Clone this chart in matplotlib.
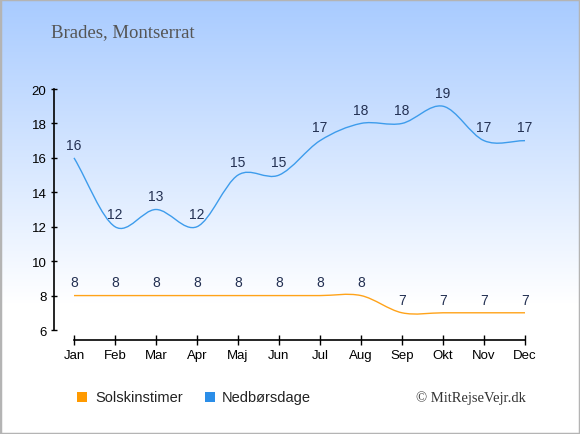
import numpy as np
import matplotlib
matplotlib.use('Agg')
import matplotlib.pyplot as plt
from matplotlib.path import Path
from matplotlib.patches import PathPatch, Rectangle

# Data
months = ['Jan', 'Feb', 'Mar', 'Apr', 'Maj', 'Jun', 'Jul', 'Aug', 'Sep', 'Okt', 'Nov', 'Dec']
sun_hours = [8, 8, 8, 8, 8, 8, 8, 8, 7, 7, 7, 7]
rain_days = [16, 12, 13, 12, 15, 15, 17, 18, 18, 19, 17, 17]
yticks = [6, 8, 10, 12, 14, 16, 18, 20]

orange = '#ffa31a'
blue = '#3d9cec'
label_col = '#233052'


def spline_path(xs, ys):
    # catmull-rom curve through the points, as cubic bezier segments
    n = len(xs)
    m = np.zeros(n)
    for i in range(n):
        if i == 0:
            m[i] = ys[1] - ys[0]
        elif i == n - 1:
            m[i] = (ys[-1] - ys[-2]) * 0.5
        else:
            m[i] = (ys[i + 1] - ys[i - 1]) / 2
    verts = [(xs[0], ys[0])]
    codes = [Path.MOVETO]
    for i in range(1, n):
        dx = xs[i] - xs[i - 1]
        verts += [(xs[i - 1] + dx / 3, ys[i - 1] + m[i - 1] / 3),
                  (xs[i] - dx / 3, ys[i] - m[i] / 3),
                  (xs[i], ys[i])]
        codes += [Path.CURVE4] * 3
    return Path(verts, codes)


W, H = 580, 435
fig = plt.figure(figsize=(W / 100, H / 100), dpi=100)

# gradient background
bg = fig.add_axes([0, 0, 1, 1], zorder=-10)
t = np.clip(np.linspace(0, 1, H) / 0.7, 0, 1)
top = np.array([168, 203, 255]) / 255
grad = top[None, :] * (1 - t[:, None]) + np.ones(3)[None, :] * t[:, None]
bg.imshow(grad[:, None, :], aspect='auto', extent=[0, 1, 0, 1])
bg.axis('off')
bg.add_patch(Rectangle((0, 0), 1, 1, transform=bg.transAxes, fill=False,
                       edgecolor='#b4b4b4', linewidth=2.5))

# main axes: y spine at x=54, x from Jan=74 to Dec=525, y 20 at 90, 6 at 331
left_px, right_px = 54, 525
ax = fig.add_axes([left_px / W, (H - 341) / H, (right_px - left_px) / W, (341 - 90) / H])
ax.patch.set_alpha(0)
px_month = (525 - 74) / 11
ax.set_xlim(-(74 - 54) / px_month, 11)
px_unit = (331 - 90) / 14
ax.set_ylim(6 - 10 / px_unit, 20)

x = np.arange(len(months))
ax.add_patch(PathPatch(spline_path(x, sun_hours), fill=False, edgecolor=orange, linewidth=1.0))
ax.add_patch(PathPatch(spline_path(x, rain_days), fill=False, edgecolor=blue, linewidth=1.0))

for xi, v in zip(x, sun_hours):
    ax.annotate(str(v), (xi, v), xytext=(0, 9.5), textcoords='offset points',
                ha='center', va='center', fontsize=10, color=label_col,
                family='Liberation Sans', annotation_clip=False)
for xi, v in zip(x, rain_days):
    ax.annotate(str(v), (xi, v), xytext=(0, 9.5), textcoords='offset points',
                ha='center', va='center', fontsize=10, color=label_col,
                family='Liberation Sans', annotation_clip=False)

for s in ['top', 'right']:
    ax.spines[s].set_visible(False)
ax.spines['left'].set_bounds(6, 20)
ax.spines['bottom'].set_bounds(0, 11)
ax.spines['left'].set_linewidth(1.2)
ax.spines['bottom'].set_linewidth(1.2)
ax.set_xticks(x)
ax.set_xticklabels(months, family='Liberation Sans', fontsize=9.5)
ax.set_yticks(yticks)
ax.set_yticklabels([str(v) for v in yticks], family='Liberation Sans', fontsize=9.5)
ax.tick_params(axis='x', direction='inout', length=7, width=1, pad=3)
ax.tick_params(axis='y', direction='inout', length=5, width=1, pad=3)

# title
fig.text(51 / W, 1 - 33 / H, 'Brades, Montserrat', family='Liberation Serif',
         fontsize=13.5, color='#555555', ha='left', va='center')

# legend
ly = 1 - 398 / H
fig.patches.append(Rectangle((77 / W, 1 - 403 / H), 10 / W, 10 / H, transform=fig.transFigure,
                             facecolor='#ff9a00', edgecolor='none'))
fig.text(95 / W, ly, 'Solskinstimer', family='Liberation Sans', fontsize=10.5,
         color='#222222', ha='left', va='center')
fig.patches.append(Rectangle((205 / W, 1 - 403 / H), 10 / W, 10 / H, transform=fig.transFigure,
                             facecolor='#2b8ee8', edgecolor='none'))
fig.text(222 / W, ly, 'Nedbørsdage', family='Liberation Sans', fontsize=10.5,
         color='#222222', ha='left', va='center')
fig.text(526 / W, ly, '© MitRejseVejr.dk', family='Liberation Serif', fontsize=10.5,
         color='#333333', ha='right', va='center')

fig.savefig('out.png', dpi=100)
